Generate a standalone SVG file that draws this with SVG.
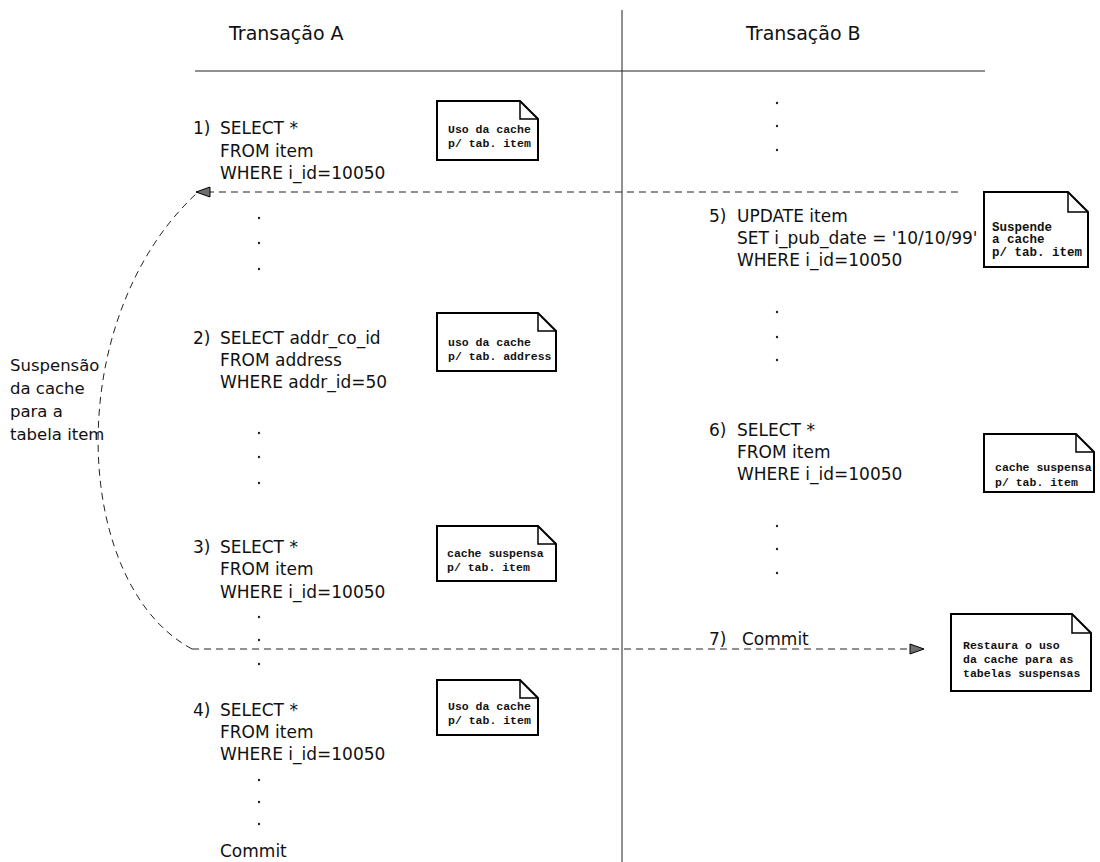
<svg xmlns="http://www.w3.org/2000/svg" width="1100" height="862" viewBox="0 0 1100 862">
  <defs>
    <marker id="arrow" viewBox="0 0 16 12" refX="15" refY="6" markerWidth="16" markerHeight="12" markerUnits="userSpaceOnUse" orient="auto">
      <path d="M1,1 L15,6 L1,11 Z" fill="#6e6e6e" stroke="#000" stroke-width="1"/>
    </marker>
  </defs>
  <style>
    .head { font-family: "DejaVu Sans", "Liberation Sans", sans-serif; font-size: 19px; fill: #111; }
    .sql { font-family: "DejaVu Sans", "Liberation Sans", sans-serif; font-size: 17px; fill: #111; }
    .lbl { font-family: "DejaVu Sans", "Liberation Sans", sans-serif; font-size: 16.5px; fill: #111; }
    .note path.box { fill: #fff; stroke: #000; stroke-width: 2; }
    .note path.fold { fill: none; stroke: #000; stroke-width: 1.5; }
    .nt { font-family: "Liberation Mono", "DejaVu Sans Mono", monospace; font-weight: bold; font-size: 11.5px; fill: #111; }
    .nt5 { font-size: 12.5px; }
    .rule { stroke: #222; stroke-width: 1; fill: none; }
    .dash { stroke: #222; stroke-width: 1; fill: none; stroke-dasharray: 7 5; }
    .dot { fill: #222; }
  </style>

  <rect width="1100" height="862" fill="#fff"/>

  <!-- column headers and separators -->
  <g id="headers">
    <text class="head" x="229" y="40">Transação A</text>
    <text class="head" x="746" y="40">Transação B</text>
    <line class="rule" x1="195" y1="71" x2="985" y2="71"/>
    <line class="rule" x1="622" y1="10" x2="622" y2="862"/>
  </g>

  <!-- Transaction A statements -->
  <g id="stmt1">
    <text class="sql" x="193" y="134">1)</text>
    <text class="sql" x="220" y="134">SELECT *</text>
    <text class="sql" x="220" y="157">FROM item</text>
    <text class="sql" x="220" y="179">WHERE i_id=10050</text>
  </g>
  <g id="dotsA1" class="dot">
    <circle cx="259" cy="218" r="1.2"/><circle cx="259" cy="243" r="1.2"/><circle cx="259" cy="269" r="1.2"/>
  </g>
  <g id="stmt2">
    <text class="sql" x="193" y="344">2)</text>
    <text class="sql" x="220" y="344">SELECT addr_co_id</text>
    <text class="sql" x="220" y="366">FROM address</text>
    <text class="sql" x="220" y="388">WHERE addr_id=50</text>
  </g>
  <g id="dotsA2" class="dot">
    <circle cx="259" cy="433" r="1.2"/><circle cx="259" cy="457" r="1.2"/><circle cx="259" cy="483" r="1.2"/>
  </g>
  <g id="stmt3">
    <text class="sql" x="193" y="553">3)</text>
    <text class="sql" x="220" y="553">SELECT *</text>
    <text class="sql" x="220" y="575">FROM item</text>
    <text class="sql" x="220" y="598">WHERE i_id=10050</text>
  </g>
  <g id="dotsA3" class="dot">
    <circle cx="259" cy="617" r="1.2"/><circle cx="259" cy="640" r="1.2"/><circle cx="259" cy="664" r="1.2"/>
  </g>
  <g id="stmt4">
    <text class="sql" x="193" y="716">4)</text>
    <text class="sql" x="220" y="716">SELECT *</text>
    <text class="sql" x="220" y="738">FROM item</text>
    <text class="sql" x="220" y="760">WHERE i_id=10050</text>
  </g>
  <g id="dotsA4" class="dot">
    <circle cx="259" cy="780" r="1.2"/><circle cx="259" cy="802" r="1.2"/><circle cx="259" cy="824" r="1.2"/>
  </g>
  <g id="commitA">
    <text class="sql" x="220" y="857">Commit</text>
  </g>

  <!-- Transaction B statements -->
  <g id="dotsB0" class="dot">
    <circle cx="777" cy="103" r="1.2"/><circle cx="777" cy="126" r="1.2"/><circle cx="777" cy="150" r="1.2"/>
  </g>
  <g id="stmt5">
    <text class="sql" x="709" y="222">5)</text>
    <text class="sql" x="737" y="222">UPDATE item</text>
    <text class="sql" x="737" y="244">SET i_pub_date = '10/10/99'</text>
    <text class="sql" x="737" y="266">WHERE i_id=10050</text>
  </g>
  <g id="dotsB1" class="dot">
    <circle cx="777" cy="312" r="1.2"/><circle cx="777" cy="337" r="1.2"/><circle cx="777" cy="360" r="1.2"/>
  </g>
  <g id="stmt6">
    <text class="sql" x="709" y="436">6)</text>
    <text class="sql" x="737" y="436">SELECT *</text>
    <text class="sql" x="737" y="458">FROM item</text>
    <text class="sql" x="737" y="480">WHERE i_id=10050</text>
  </g>
  <g id="dotsB2" class="dot">
    <circle cx="777" cy="526" r="1.2"/><circle cx="777" cy="549" r="1.2"/><circle cx="777" cy="573" r="1.2"/>
  </g>
  <g id="stmt7">
    <text class="sql" x="709" y="645">7)</text>
    <text class="sql" x="742" y="645">Commit</text>
  </g>

  <!-- notes (dog-eared boxes) -->
  <g id="note1" class="note">
    <path class="box" d="M437,101 H520 L538,119 V160 H437 Z"/>
    <path class="fold" d="M520,101 V119 H538"/>
    <text class="nt" x="448" y="133">Uso da cache</text>
    <text class="nt" x="448" y="147">p/ tab. item</text>
  </g>
  <g id="note2" class="note">
    <path class="box" d="M437,313 H538 L556,331 V371 H437 Z"/>
    <path class="fold" d="M538,313 V331 H556"/>
    <text class="nt" x="448" y="346">uso da cache</text>
    <text class="nt" x="448" y="360">p/ tab. address</text>
  </g>
  <g id="note3" class="note">
    <path class="box" d="M437,526 H538 L556,544 V581 H437 Z"/>
    <path class="fold" d="M538,526 V544 H556"/>
    <text class="nt" x="447" y="557">cache suspensa</text>
    <text class="nt" x="447" y="571">p/ tab. item</text>
  </g>
  <g id="note4" class="note">
    <path class="box" d="M437,680 H520 L538,698 V735 H437 Z"/>
    <path class="fold" d="M520,680 V698 H538"/>
    <text class="nt" x="448" y="710">Uso da cache</text>
    <text class="nt" x="448" y="724">p/ tab. item</text>
  </g>
  <g id="note5" class="note">
    <path class="box" d="M984,192 H1068 L1088,212 V267 H984 Z"/>
    <path class="fold" d="M1068,192 V212 H1088"/>
    <text class="nt nt5" x="992" y="231">Suspende</text>
    <text class="nt nt5" x="992" y="243">a cache</text>
    <text class="nt nt5" x="992" y="256">p/ tab. item</text>
  </g>
  <g id="note6" class="note">
    <path class="box" d="M984,434 H1076 L1094,452 V492 H984 Z"/>
    <path class="fold" d="M1076,434 V452 H1094"/>
    <text class="nt" x="995" y="471">cache suspensa</text>
    <text class="nt" x="995" y="486">p/ tab. item</text>
  </g>
  <g id="note7" class="note">
    <path class="box" d="M951,614 H1072 L1091,633 V691 H951 Z"/>
    <path class="fold" d="M1072,614 V633 H1091"/>
    <text class="nt" x="963" y="649">Restaura o uso</text>
    <text class="nt" x="963" y="663">da cache para as</text>
    <text class="nt" x="963" y="677">tabelas suspensas</text>
  </g>

  <!-- side label -->
  <g id="label">
    <text class="lbl" x="10" y="371">Suspensão</text>
    <text class="lbl" x="10" y="394">da cache</text>
    <text class="lbl" x="10" y="417">para a</text>
    <text class="lbl" x="10" y="440">tabela item</text>
  </g>

  <!-- connectors -->
  <g id="connectors">
    <path class="dash" d="M958,192 H196" marker-end="url(#arrow)"/>
    <path class="dash" d="M192,649 C72,585 60,320 197,193"/>
    <path class="dash" d="M192,649 H924" marker-end="url(#arrow)"/>
  </g>
</svg>
